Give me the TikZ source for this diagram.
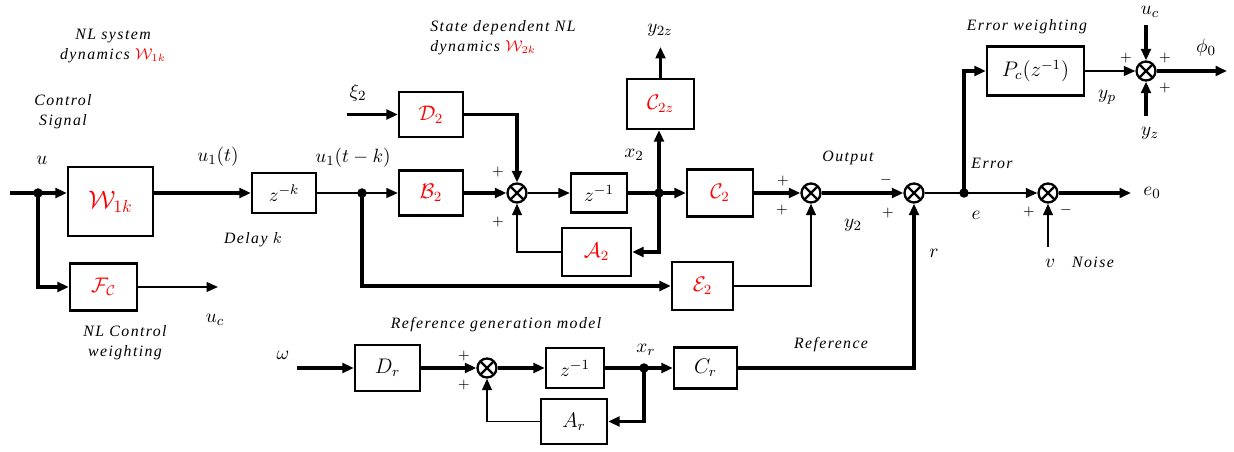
\documentclass[tikz,border=0pt]{standalone}
\usepackage{fontspec}
\setmainfont{Liberation Serif}
\newfontfamily\lblfont[LetterSpace=9]{Liberation Serif}
\usetikzlibrary{arrows.meta,calc}
\definecolor{nlred}{HTML}{FF0000}
\tikzset{
  block/.style    = {draw, line width=1.3pt, rectangle, inner sep=0pt, align=center},
  sumnode/.style  = {draw, line width=1.3pt, circle, inner sep=0pt, minimum size=0.38cm,
                     path picture={\draw[line width=1.3pt]
                       (path picture bounding box.north west) -- (path picture bounding box.south east)
                       (path picture bounding box.north east) -- (path picture bounding box.south west);}},
  pickoff/.style  = {fill, circle, inner sep=0pt, minimum size=0.19cm},
  sig/.style      = {-{Triangle[length=6.5pt,width=5.5pt]}, line width=1.8pt},
  thinsig/.style  = {-{Triangle[length=6.5pt,width=5.5pt]}, line width=1.1pt},
  lbl/.style      = {font=\lblfont\itshape\fontsize{9}{11.5}\selectfont, align=center, inner sep=0pt},
  sgn/.style      = {font=\fontsize{8}{8}\selectfont, inner sep=0pt},
  nl/.style       = {text=nlred},
}

\begin{document}
\begin{tikzpicture}[x=0.02cm,y=-0.02cm,font=\fontsize{11}{13}\selectfont]
\useasboundingbox (0,0) rectangle (1234,452);
% blocks
\node[block,nl,minimum width=1.7cm,minimum height=1.38cm,font=\fontsize{14}{16}\selectfont] (W1k) at (110.5,201.5) {$\mathcal{W}_{1k}$};
\node[block,nl,minimum width=1.34cm,minimum height=0.94cm,font=\fontsize{12}{14}\selectfont] (Fc) at (103.5,287) {$\mathcal{F}_{\mathcal{C}}$};
\node[block,minimum width=1.28cm,minimum height=0.8cm] (zk) at (284,193) {$z^{-k}$};
\node[block,nl,minimum width=1.28cm,minimum height=0.9cm,font=\fontsize{12}{14}\selectfont] (B2) at (431,193) {$\mathcal{B}_2$};
\node[block,nl,minimum width=1.28cm,minimum height=0.9cm,font=\fontsize{12}{14}\selectfont] (D2) at (431,114.5) {$\mathcal{D}_2$};
\node[block,minimum width=1.12cm,minimum height=0.78cm] (z1) at (599,193) {$z^{-1}$};
\node[block,nl,minimum width=1.34cm,minimum height=1.0cm,font=\fontsize{12}{14}\selectfont] (C2z) at (660.5,104) {$\mathcal{C}_{2z}$};
\node[block,nl,minimum width=1.38cm,minimum height=0.96cm,font=\fontsize{12}{14}\selectfont] (A2) at (596.5,252) {$\mathcal{A}_2$};
\node[block,nl,minimum width=1.32cm,minimum height=0.94cm,font=\fontsize{12}{14}\selectfont] (C2) at (720,193) {$\mathcal{C}_2$};
\node[block,nl,minimum width=1.22cm,minimum height=0.96cm,font=\fontsize{12}{14}\selectfont] (E2) at (702.5,286) {$\mathcal{E}_2$};
\node[block,minimum width=1.94cm,minimum height=0.98cm,font=\fontsize{12}{14}\selectfont] (Pc) at (1035.5,71) {$P_c(z^{-1})$};
\node[block,minimum width=1.3cm,minimum height=0.92cm,font=\fontsize{12}{14}\selectfont] (Dr) at (387.5,368) {$D_r$};
\node[block,minimum width=1.16cm,minimum height=0.8cm] (z2) at (575,368) {$z^{-1}$};
\node[block,minimum width=1.26cm,minimum height=0.82cm,font=\fontsize{12}{14}\selectfont] (Cr) at (705.5,368) {$C_r$};
\node[block,minimum width=1.32cm,minimum height=0.9cm,font=\fontsize{12}{14}\selectfont] (Ar) at (574,421.5) {$A_r$};
% summing junctions
\node[sumnode] (s1) at (517,193) {};
\node[sumnode] (s2) at (811,193) {};
\node[sumnode] (s3) at (914,193) {};
\node[sumnode] (s5) at (1048,193) {};
\node[sumnode] (s4) at (1146,71) {};
\node[sumnode] (s6) at (487,368) {};
% free ends
\coordinate (uin) at (10,193);
\coordinate (ucend) at (218,287);
\coordinate (xiin) at (347,114.5);
\coordinate (y2zend) at (660.5,47);
\coordinate (phiend) at (1227,71);
\coordinate (ucin) at (1146,25);
\coordinate (yzin) at (1146,116);
\coordinate (e0end) at (1131,193);
\coordinate (vin) at (1048,247);
\coordinate (omin) at (297,368);
% pick-off points
\coordinate (j0) at (38,193);
\coordinate (j1) at (362,193);
\coordinate (jx2) at (659,193);
\coordinate (je) at (964,193);
\coordinate (jxr) at (644,368);
% signals
\draw[sig] (uin) -- (uin -| W1k.west);
\draw[sig] (j0) |- (Fc.west);
\draw[thinsig] (Fc.east) -- (ucend);
\draw[sig] (W1k.east |- zk) -- (zk.west);
\draw[thinsig] (zk.east) -- (B2.west);
\draw[sig] (j1) |- (E2.west);
\draw[sig] (xiin) -- (D2.west);
\draw[sig] (D2.east) -| (s1.north);
\draw[sig] (B2.east) -- (s1.west);
\draw[thinsig] (s1.east) -- (z1.west);
\draw[sig] (z1.east) -- (C2.west);
\draw[sig] (jx2) -- (jx2 |- C2z.south);
\draw[sig] (C2z.north) -- (y2zend);
\draw[sig] (jx2) |- (A2.east);
\draw[thinsig] (A2.west) -| (s1.south);
\draw[sig] (C2.east) -- (s2.west);
\draw[thinsig] (E2.east) -| (s2.south);
\draw[sig] (s2.east) -- (s3.west);
\draw[line width=1.1pt] (s3.east) -- (je);
\draw[thinsig] (je) -- (s5.west);
\draw[sig] (je) |- (Pc.west);
\draw[thinsig] (Pc.east) -- (s4.west);
\draw[sig] (s4.east) -- (phiend);
\draw[sig] (ucin) -- (s4.north);
\draw[sig] (yzin) -- (s4.south);
\draw[sig] (s5.east) -- (e0end);
\draw[thinsig] (vin) -- (s5.south);
\draw[sig] (omin) -- (Dr.west);
\draw[sig] (Dr.east) -- (s6.west);
\draw[sig] (s6.east) -- (z2.west);
\draw[sig] (z2.east) -- (Cr.west);
\draw[sig] (jxr) |- (Ar.east);
\draw[thinsig] (Ar.west) -| (s6.south);
\draw[sig] (Cr.east) -| (s3.south);
\foreach \p in {j0,j1,jx2,je,jxr}
  \node[pickoff] at (\p) {};
% signs
\node[sgn] (p1a) at (498,172) {$+$};
\node[sgn] (p1b) at (498,222) {$+$};
\node[sgn] (p2a) at (783,181) {$+$};
\node[sgn] (p2b) at (782,210) {$+$};
\node[sgn] (p3a) at (886,180) {$-$};
\node[sgn] (p3b) at (888,213) {$+$};
\node[sgn] (p5a) at (1029,212) {$+$};
\node[sgn] (p5b) at (1066,210) {$-$};
\node[sgn] (p4a) at (1126,58) {$+$};
\node[sgn] (p4b) at (1165,58) {$+$};
\node[sgn] (p4c) at (1165,88) {$+$};
\node[sgn] (p6a) at (464,356) {$+$};
\node[sgn] (p6b) at (464,385) {$+$};
% labels
\node[lbl] (tW1) at (113,46) {NL system\\dynamics \textcolor{nlred}{$\mathcal{W}_{1k}$}};
\node[lbl] (tctl) at (63,112) {Control\\Signal};
\node (tu) at (42,160) {$u$};
\node (tu1) at (218,157) {$u_1(t)$};
\node[lbl] (tdel) at (253,240) {Delay $k$};
\node[lbl] (tFc) at (125,343) {NL Control\\weighting};
\node (tuc) at (215,320) {$u_c$};
\node[lbl,anchor=west,align=left] (tW2) at (430,38) {State dependent NL\\dynamics \textcolor{nlred}{$\mathcal{W}_{2k}$}};
\node (txi) at (358,93) {$\xi_2$};
\node (tu1k) at (353,158) {$u_1(t-k)$};
\node (tx2) at (634,155) {$x_2$};
\node (ty2z) at (660,30) {$y_{2z}$};
\node[lbl] (tout) at (848,158) {Output};
\node (ty2) at (853,225) {$y_2$};
\node (tr) at (934,253) {$r$};
\node[lbl] (terr) at (992,163) {Error};
\node (te) at (976,215) {$e$};
\node[lbl] (tew) at (1027,27) {Error weighting};
\node (typ) at (1107,97) {$y_p$};
\node (tuc2) at (1150,12) {$u_c$};
\node (tyz) at (1150,133) {$y_z$};
\node (tphi) at (1206,48) {$\phi_0$};
\node (te0) at (1152,193) {$e_0$};
\node (tv) at (1050,263) {$v$};
\node[lbl] (tnoise) at (1093,262) {Noise};
\node (tom) at (283,355) {$\omega$};
\node[lbl] (trgm) at (496,325) {Reference generation model};
\node (txr) at (646,350) {$x_r$};
\node[lbl] (tref) at (831,345) {Reference};
\end{tikzpicture}
\end{document}
